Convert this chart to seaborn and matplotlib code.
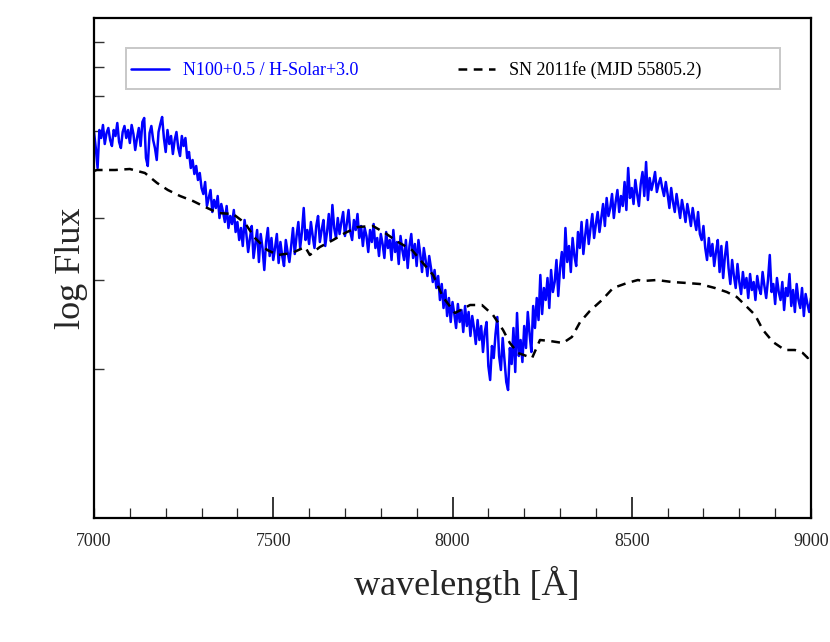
import numpy as np
import pandas as pd
import seaborn as sns
import matplotlib
matplotlib.use("Agg")
import matplotlib.pyplot as plt
from matplotlib.patches import Rectangle
from matplotlib.ticker import MultipleLocator, FixedLocator

# ---------------- data ----------------
model_label = "N100+0.5 / H-Solar+3.0"
sn_label = "SN 2011fe (MJD 55805.2)"

# model spectrum, sampled every 5 A from 7000 to 9000 A (one row = 50 A)
model_wave = np.arange(7000, 9001, 5)
model_flux = [
    3.86, 3.70, 3.50, 3.88, 3.80, 3.93, 3.74, 3.85, 3.90, 3.78,  # 7000
    3.72, 3.88, 3.82, 3.95, 3.76, 3.70, 3.86, 3.92, 3.80, 3.88,  # 7050
    3.75, 3.93, 3.84, 3.68, 3.80, 3.90, 3.72, 3.96, 4.00, 3.60,  # 7100
    3.52, 3.85, 3.92, 3.78, 3.70, 3.58, 3.86, 3.94, 4.01, 3.80,  # 7150
    3.66, 3.88, 3.74, 3.82, 3.64, 3.78, 3.86, 3.70, 3.62, 3.82,  # 7200
    3.72, 3.80, 3.60, 3.66, 3.50, 3.58, 3.44, 3.52, 3.38, 3.45,  # 7250
    3.30, 3.24, 3.36, 3.12, 3.20, 3.28, 3.06, 3.18, 3.10, 3.22,  # 7300
    3.00, 3.14, 3.06, 2.96, 3.12, 2.90, 3.02, 2.94, 3.08, 2.86,  # 7350
    2.96, 2.78, 2.90, 2.72, 2.98, 2.84, 2.66, 2.80, 2.92, 2.60,  # 7400
    2.74, 2.88, 2.56, 2.84, 2.70, 2.48, 2.76, 2.90, 2.62, 2.80,  # 7450
    2.58, 2.70, 2.84, 2.55, 2.76, 2.62, 2.52, 2.78, 2.66, 2.56,  # 7500
    2.72, 2.90, 2.64, 2.82, 2.96, 2.70, 2.86, 3.10, 2.78, 2.88,  # 7550
    2.74, 2.96, 2.82, 2.70, 2.92, 3.02, 2.76, 2.88, 2.98, 2.72,  # 7600
    2.86, 3.04, 2.78, 3.13, 2.90, 2.80, 3.00, 2.84, 2.96, 3.06,  # 7650
    2.82, 2.94, 3.08, 2.86, 2.78, 2.98, 2.88, 3.04, 2.80, 2.92,  # 7700
    2.72, 2.90, 2.82, 2.66, 2.88, 2.76, 2.94, 2.70, 2.80, 2.62,  # 7750
    2.84, 2.74, 2.60, 2.86, 2.70, 2.78, 2.58, 2.88, 2.66, 2.76,  # 7800
    2.54, 2.82, 2.68, 2.58, 2.78, 2.50, 2.72, 2.84, 2.60, 2.74,  # 7850
    2.52, 2.78, 2.64, 2.46, 2.70, 2.58, 2.42, 2.62, 2.50, 2.36,  # 7900
    2.48, 2.30, 2.42, 2.18, 2.34, 2.10, 2.28, 2.02, 2.20, 1.96,  # 7950
    2.16, 2.04, 1.90, 2.14, 1.96, 2.08, 1.86, 2.12, 1.92, 2.06,  # 8000
    1.82, 2.02, 1.90, 1.74, 1.98, 1.78, 1.92, 1.66, 1.86, 1.96,  # 8050
    1.52, 1.38, 1.72, 1.60, 1.84, 2.01, 1.62, 1.48, 1.80, 1.58,  # 8100
    1.36, 1.28, 1.70, 1.54, 1.90, 1.46, 2.05, 1.62, 1.78, 1.56,  # 8150
    1.92, 1.70, 2.06, 1.84, 1.66, 2.12, 1.90, 2.20, 1.98, 2.43,  # 8200
    2.04, 2.30, 2.18, 2.40, 2.10, 2.48, 2.26, 2.36, 2.58, 2.22,  # 8250
    2.50, 2.66, 2.40, 2.90, 2.56, 2.72, 2.46, 2.80, 2.62, 2.52,  # 8300
    2.86, 2.70, 2.96, 2.64, 2.82, 2.98, 2.74, 2.90, 3.04, 2.80,  # 8350
    2.94, 3.06, 2.86, 3.00, 3.14, 2.92, 3.20, 3.02, 3.10, 3.24,  # 8400
    3.00, 3.16, 3.28, 3.06, 3.22, 3.12, 3.36, 3.08, 3.50, 3.20,  # 8450
    3.30, 3.14, 3.38, 3.24, 3.12, 3.34, 3.46, 3.22, 3.56, 3.18,  # 8500
    3.40, 3.28, 3.36, 3.46, 3.26, 3.34, 3.40, 3.30, 3.22, 3.36,  # 8550
    3.24, 3.10, 3.30, 3.16, 3.06, 3.24, 3.12, 3.00, 3.18, 3.08,  # 8600
    2.96, 3.14, 3.04, 2.92, 3.10, 2.98, 2.88, 3.06, 2.84, 2.78,  # 8650
    2.92, 2.70, 2.58, 2.80, 2.62, 2.74, 2.52, 2.66, 2.78, 2.46,  # 8700
    2.72, 2.40, 2.62, 2.76, 2.50, 2.34, 2.58, 2.42, 2.30, 2.54,  # 8750
    2.36, 2.24, 2.46, 2.30, 2.40, 2.20, 2.44, 2.28, 2.36, 2.18,  # 8800
    2.42, 2.30, 2.24, 2.46, 2.32, 2.20, 2.38, 2.63, 2.26, 2.34,  # 8850
    2.14, 2.40, 2.26, 2.18, 2.36, 2.08, 2.30, 2.22, 2.44, 2.12,  # 8900
    2.28, 2.06, 2.34, 2.18, 2.10, 2.30, 2.02, 2.24, 2.14, 2.06,  # 8950
    2.20,                                                        # 9000
]

# observed SN 2011fe spectrum
sn_wave = [
    7000, 7008, 7059, 7100, 7142, 7176, 7206, 7240, 7276, 7310,
    7346, 7388, 7421, 7449, 7483, 7513, 7552, 7589, 7602, 7630,
    7667, 7700, 7736, 7778, 7812, 7848, 7887, 7915, 7946, 7973,
    8007, 8049, 8082, 8113, 8141, 8160, 8183, 8222, 8244, 8272,
    8308, 8333, 8356, 8383, 8417, 8448, 8487, 8517, 8531, 8570,
    8612, 8654, 8690, 8732, 8765, 8793, 8816, 8844, 8866, 8894,
    8927, 8955, 8977, 8991, 9000,
]
sn_flux = [
    3.47, 3.48, 3.48, 3.49, 3.45, 3.35, 3.28, 3.22, 3.17, 3.11,
    3.05, 3.04, 2.95, 2.80, 2.68, 2.63, 2.65, 2.71, 2.63, 2.71,
    2.78, 2.85, 2.91, 2.92, 2.85, 2.76, 2.68, 2.56, 2.43, 2.21,
    2.05, 2.13, 2.13, 2.03, 1.88, 1.75, 1.65, 1.60, 1.78, 1.77,
    1.75, 1.81, 1.96, 2.07, 2.18, 2.30, 2.35, 2.38, 2.37, 2.38,
    2.36, 2.35, 2.34, 2.30, 2.26, 2.21, 2.13, 2.03, 1.88, 1.76,
    1.68, 1.68, 1.65, 1.60, 1.66,
]

y_ticks = [4.76, 4.51, 4.22, 3.87, 3.00, 2.38, 1.49]
x_labels = [7000, 7500, 8000, 8500, 9000]

model_df = pd.DataFrame({"wave": model_wave, "flux": model_flux})
sn_df = pd.DataFrame({"wave": sn_wave, "flux": sn_flux})

# ---------------- style ----------------
sns.set_theme(style="ticks")
plt.rcParams["font.family"] = ["Liberation Serif", "DejaVu Serif"]

fig = plt.figure(figsize=(8.3, 6.42), dpi=100)
ax = fig.add_axes([94 / 830, 1 - 518 / 642, 717 / 830, 500 / 642])

sns.lineplot(data=model_df, x="wave", y="flux", ax=ax, color="#0000ff",
             lw=1.8, label=model_label, estimator=None, sort=False)
sns.lineplot(data=sn_df, x="wave", y="flux", ax=ax, color="black",
             lw=1.8, linestyle=(0, (3.5, 2.6)), label=sn_label,
             estimator=None, sort=False)

ax.set_xlim(7000, 9000)
ax.set_ylim(0, 5)

for s in ax.spines.values():
    s.set_linewidth(1.6)
    s.set_color("black")

ax.xaxis.set_major_locator(FixedLocator([7500, 8000, 8500]))
ax.xaxis.set_minor_locator(MultipleLocator(100))
ax.tick_params(axis="x", which="major", direction="in", length=15,
               width=1.3, labelbottom=False, bottom=True, top=False)
ax.tick_params(axis="x", which="minor", direction="in", length=7.5,
               width=0.9, bottom=True, top=False)
# tick labels (incl. the ends at the spines)
for xv in x_labels:
    ax.annotate(str(xv), xy=(xv, 0), xycoords=("data", "axes fraction"),
                xytext=(0, -10.5), textcoords="offset points",
                ha="center", va="top", fontsize=13)

ax.yaxis.set_major_locator(FixedLocator(y_ticks))
ax.tick_params(axis="y", which="major", direction="in", length=7.5,
               width=1.0, labelleft=False, left=True, right=False,
               color="#333333")
ax.yaxis.set_minor_locator(FixedLocator([]))

ax.set_xlabel("wavelength [Å]", fontsize=26, labelpad=31)
ax.xaxis.label.set_x((467 - 94) / 717)
ax.set_ylabel("log Flux", fontsize=26, labelpad=4)

# legend
leg = ax.legend(loc="center left", bbox_to_anchor=(0.0446, 0.895),
                ncol=2, frameon=False, fontsize=13, handlelength=2.1,
                handletextpad=0.75, columnspacing=5.5, borderpad=0.3,
                borderaxespad=0, labelcolor="linecolor")
ax.add_patch(Rectangle((0.0446, 0.858), 0.957 - 0.0446, 0.94 - 0.858,
                       transform=ax.transAxes, fill=False,
                       edgecolor="#c8c8c8", lw=1.4, zorder=5))

fig.savefig("out.png", dpi=100)
